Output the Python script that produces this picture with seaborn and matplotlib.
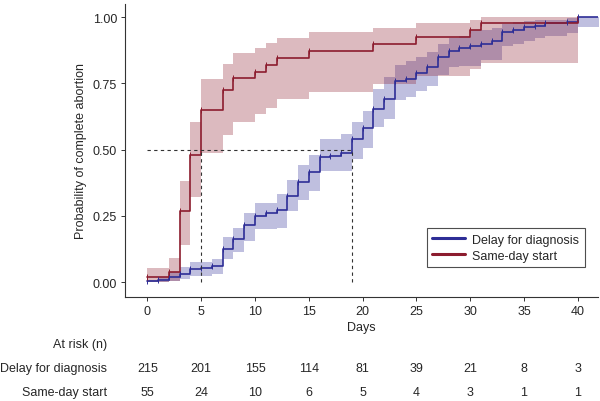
import numpy as np
import pandas as pd
import matplotlib
matplotlib.use('Agg')
import matplotlib.pyplot as plt
import matplotlib.transforms as mtransforms
from matplotlib.lines import Line2D
import seaborn as sns

# Kaplan-Meier style curves
delay_days = [0, 1, 2, 3, 4, 5, 6, 7, 8, 9, 10, 11, 12, 13, 14, 15, 16, 17, 18, 19,
              20, 21, 22, 23, 24, 25, 26, 27, 28, 29, 30, 31, 32, 33, 34, 35, 36, 37, 39, 40, 42]
delay_prob = [0.005, 0.01, 0.02, 0.033, 0.049, 0.055, 0.062, 0.127, 0.162, 0.215, 0.25, 0.263,
              0.272, 0.326, 0.38, 0.416, 0.473, 0.477, 0.486, 0.54, 0.58, 0.655, 0.69, 0.76,
              0.766, 0.789, 0.81, 0.848, 0.873, 0.882, 0.892, 0.898, 0.908, 0.942, 0.951,
              0.961, 0.967, 0.976, 0.983, 1.0, 1.0]
delay_lower = [0.0, 0.0, 0.005, 0.011, 0.024, 0.024, 0.03, 0.089, 0.116, 0.156, 0.2, 0.2,
               0.206, 0.269, 0.311, 0.345, 0.418, 0.418, 0.418, 0.464, 0.508, 0.585, 0.615,
               0.687, 0.7, 0.72, 0.74, 0.78, 0.81, 0.815, 0.816, 0.84, 0.84, 0.89, 0.9,
               0.91, 0.92, 0.93, 0.94, 0.961, 0.961]
delay_upper = [0.01, 0.02, 0.04, 0.058, 0.077, 0.077, 0.089, 0.169, 0.206, 0.26, 0.30, 0.30,
               0.332, 0.386, 0.442, 0.48, 0.54, 0.54, 0.558, 0.606, 0.646, 0.73, 0.775,
               0.82, 0.835, 0.85, 0.87, 0.9, 0.92, 0.93, 0.95, 0.95, 0.96, 0.975, 0.98,
               0.985, 0.99, 0.99, 0.995, 1.0, 1.0]

same_days = [0, 2, 3, 4, 5, 7, 8, 10, 11, 12, 15, 21, 25, 30, 31, 40]
same_prob = [0.02, 0.04, 0.27, 0.48, 0.65, 0.726, 0.77, 0.794, 0.82, 0.845, 0.873, 0.898,
             0.926, 0.951, 0.976, 1.0]
same_lower = [0.0, 0.005, 0.141, 0.323, 0.489, 0.556, 0.606, 0.634, 0.659, 0.69, 0.716,
              0.747, 0.779, 0.804, 0.825, 0.825]
same_upper = [0.055, 0.09, 0.382, 0.603, 0.766, 0.823, 0.863, 0.882, 0.904, 0.923, 0.942,
              0.958, 0.976, 0.99, 1.0, 1.0]

# numbers at risk table
risk_ticks = [0, 5, 10, 15, 20, 25, 30, 35, 40]
risk_delay = [215, 201, 155, 114, 81, 39, 21, 8, 3]
risk_same = [55, 24, 10, 6, 5, 4, 3, 1, 1]

median_delay = 19
median_same = 5

groups = ['Delay for diagnosis', 'Same-day start']
colors = {'Delay for diagnosis': '#2d2d96', 'Same-day start': '#8c1c2e'}

df = pd.concat([
    pd.DataFrame({'days': delay_days, 'prob': delay_prob, 'lo': delay_lower,
                  'hi': delay_upper, 'group': groups[0]}),
    pd.DataFrame({'days': same_days, 'prob': same_prob, 'lo': same_lower,
                  'hi': same_upper, 'group': groups[1]}),
], ignore_index=True)

sns.set_theme(style='white')
plt.rcParams['font.family'] = ['Liberation Sans', 'DejaVu Sans']
fs = 9

fig = plt.figure(figsize=(6, 4.02), dpi=100)
ax = fig.add_axes([0.208, 0.259, 0.789, 0.729])

# confidence bands
for g in groups:
    sub = df[df.group == g]
    ax.fill_between(sub.days, sub.lo, sub.hi, step='post', color=colors[g],
                    alpha=0.3, linewidth=0)

sns.lineplot(data=df, x='days', y='prob', hue='group', palette=colors,
             estimator=None, drawstyle='steps-post', linewidth=1.2,
             legend=False, ax=ax)

# censor marks
for g in groups:
    sub = df[df.group == g]
    ax.plot(sub.days[:-1], sub.prob[:-1], linestyle='none', marker='|',
            markersize=4, markeredgewidth=0.7, color=colors[g])

# median lines
ax.plot([0, median_delay], [0.5, 0.5], color='#333333', lw=0.8, ls=(0, (3, 3)))
ax.plot([median_same, median_same], [0, 0.5], color='#333333', lw=0.8, ls=(0, (3, 3)))
ax.plot([median_delay, median_delay], [0, 0.5], color='#333333', lw=0.8, ls=(0, (3, 3)))

ax.set_xlim(-2.1, 41.9)
ax.set_ylim(-0.055, 1.05)
ax.set_xticks(risk_ticks)
ax.set_yticks([0, 0.25, 0.5, 0.75, 1.0])
ax.set_yticklabels(['0.00', '0.25', '0.50', '0.75', '1.00'])
ax.set_xlabel('Days', fontsize=fs, labelpad=3)
ax.set_ylabel('Probability of complete abortion', fontsize=fs, labelpad=4)
ax.tick_params(axis='both', labelsize=fs, length=3, width=0.7, color='#333333',
               direction='out', bottom=True, left=True, pad=2.5)
for s in ['top', 'right']:
    ax.spines[s].set_visible(False)
for s in ['left', 'bottom']:
    ax.spines[s].set_color('#333333')
    ax.spines[s].set_linewidth(0.8)

handles = [Line2D([0], [0], color=colors[g], lw=2.2) for g in groups]
leg = ax.legend(handles, groups, loc='lower right', bbox_to_anchor=(0.985, 0.08),
                fontsize=9, frameon=True, fancybox=False, handlelength=2.6,
                borderpad=0.45, labelspacing=0.3, handletextpad=0.6)
leg.get_frame().set_edgecolor('#222222')
leg.get_frame().set_linewidth(0.8)

# at-risk table under the axis
trans = mtransforms.blended_transform_factory(ax.transData, fig.transFigure)
fig.text(107 / 600, 1 - 345 / 402, 'At risk (n)', ha='right', va='center', fontsize=fs)
fig.text(107 / 600, 1 - 369 / 402, groups[0], ha='right', va='center', fontsize=fs)
fig.text(107 / 600, 1 - 393 / 402, groups[1], ha='right', va='center', fontsize=fs)
for x, a, b in zip(risk_ticks, risk_delay, risk_same):
    ax.text(x, 1 - 369 / 402, str(a), transform=trans, ha='center', va='center',
            fontsize=fs, clip_on=False)
    ax.text(x, 1 - 393 / 402, str(b), transform=trans, ha='center', va='center',
            fontsize=fs, clip_on=False)

fig.savefig('out.png', dpi=100)
